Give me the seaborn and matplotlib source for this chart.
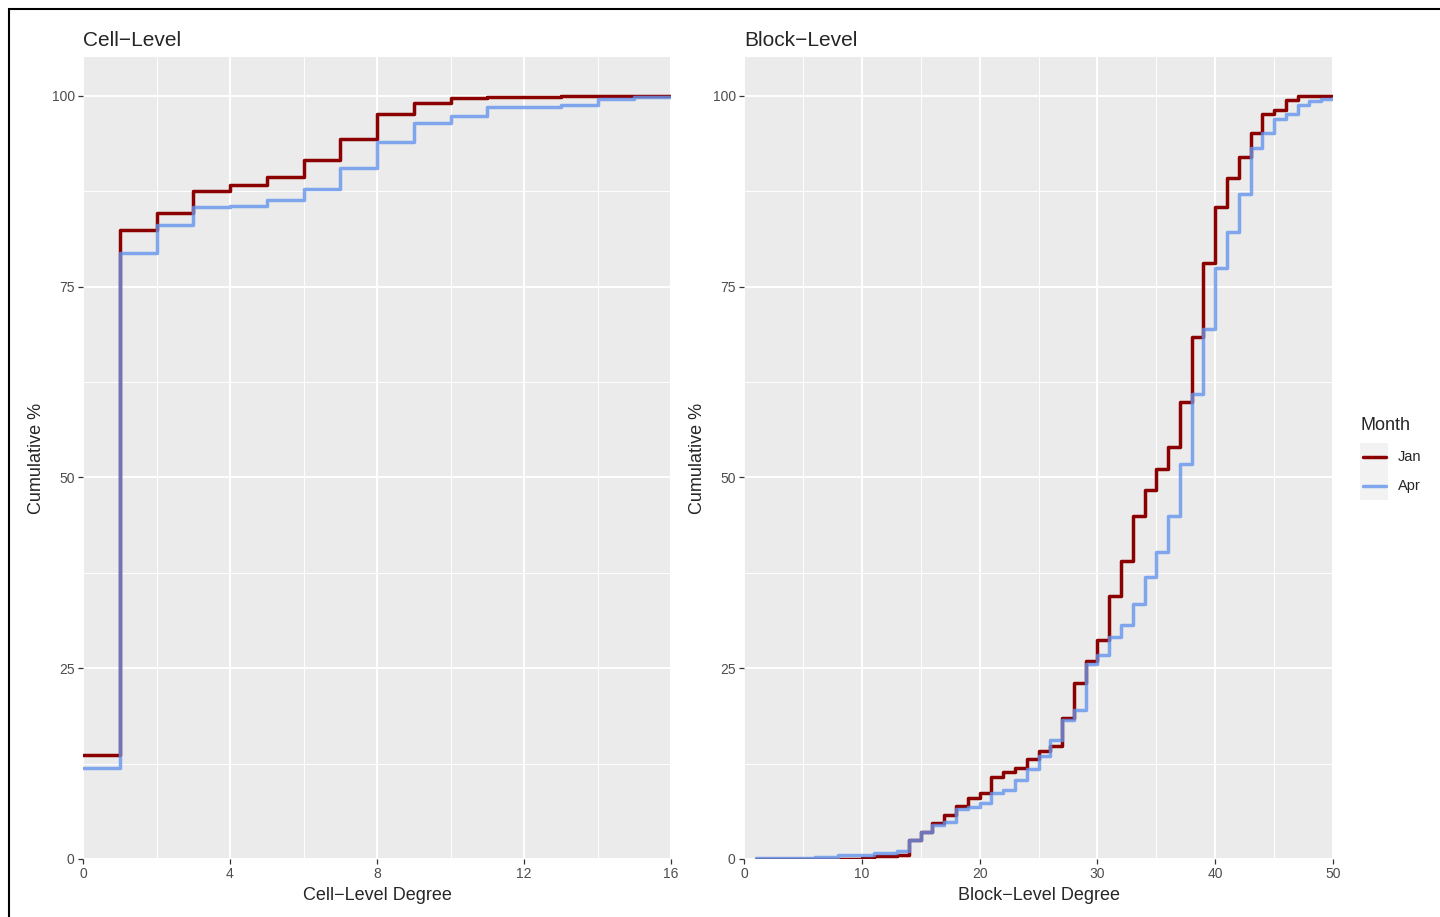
import matplotlib
matplotlib.use("Agg")
import matplotlib.pyplot as plt
import seaborn as sns
import pandas as pd
from matplotlib.patches import Rectangle
from matplotlib.lines import Line2D

# ---------------- data ----------------
MONTHS = ["Jan", "Apr"]
MONTH_COLORS = {"Jan": "#8B0000", "Apr": "#6495ED"}

cell_degree = list(range(0, 17))
cell_jan = [13.6, 82.4, 84.7, 87.5, 88.3, 89.4, 91.6, 94.4, 97.6, 99.1,
            99.7, 99.8, 99.9, 99.95, 100, 100, 100]
cell_apr = [11.9, 79.4, 83.1, 85.4, 85.6, 86.3, 87.8, 90.5, 93.9, 96.4,
            97.4, 98.5, 98.6, 98.8, 99.6, 99.8, 99.8]

block_degree = list(range(1, 51))
block_jan = [0.05, 0.05, 0.05, 0.05, 0.05, 0.05, 0.05, 0.05, 0.05,
             0.13, 0.35, 0.35, 0.57, 2.5, 3.6, 4.7, 5.8, 7.0, 8.0, 8.7,
             10.7, 11.4, 11.9, 13.1, 14.1, 14.8, 18.5, 23.1, 25.9, 28.7,
             34.5, 39.0, 45.0, 48.4, 51.1, 54.0, 59.9, 68.4, 78.1, 85.5,
             89.2, 92.0, 95.2, 97.6, 98.1, 99.4, 100, 100, 100, 100]
block_apr = [0.09, 0.09, 0.09, 0.09, 0.09, 0.26, 0.26, 0.57, 0.57,
             0.57, 0.8, 0.8, 1.0, 2.5, 3.6, 4.4, 4.9, 6.5, 6.8, 7.3,
             8.6, 9.1, 10.3, 11.8, 13.5, 15.6, 18.2, 19.5, 25.5, 26.7,
             29.1, 30.7, 33.4, 37.0, 40.2, 44.9, 51.7, 60.9, 69.5, 77.4,
             82.2, 87.1, 93.2, 95.1, 97.0, 97.6, 98.8, 99.3, 99.65, 99.7]

y_major = [0, 25, 50, 75, 100]
y_minor = [12.5, 37.5, 62.5, 87.5]

W, H = 1440, 917

sns.set_theme(style="darkgrid", rc={
    "axes.facecolor": "#EBEBEB",
    "grid.color": "white",
})
plt.rcParams["font.family"] = ["Liberation Sans", "DejaVu Sans"]


def draw_panel(ax, x, jan, apr, title, xlabel, xmax, xmajor, xminor):
    df = pd.DataFrame({
        "degree": x + x,
        "pct": jan + apr,
        "Month": ["Jan"] * len(x) + ["Apr"] * len(x),
    })
    sns.lineplot(data=df, x="degree", y="pct", hue="Month", hue_order=MONTHS,
                 palette=MONTH_COLORS, drawstyle="steps-post", estimator=None,
                 linewidth=2.5, legend=False, ax=ax)
    ax.lines[1].set_alpha(0.8)

    ax.set_xlim(0, xmax)
    ax.set_ylim(0, 105.1)
    ax.set_xticks(xmajor)
    ax.set_xticks(xminor, minor=True)
    ax.set_yticks(y_major)
    ax.set_yticks(y_minor, minor=True)
    ax.grid(which="major", color="white", linewidth=1.4)
    ax.grid(which="minor", color="white", linewidth=0.7)
    for s in ax.spines.values():
        s.set_visible(False)
    ax.tick_params(which="major", length=3.5, width=0.9, color="#333333",
                   labelcolor="#4D4D4D", labelsize=10, pad=2.5,
                   bottom=True, left=True)
    ax.tick_params(which="minor", length=0)
    ax.set_title(title, loc="left", fontsize=15, pad=8)
    ax.set_xlabel(xlabel, fontsize=13, labelpad=4)
    ax.set_ylabel("Cumulative %", fontsize=13, labelpad=5)


fig = plt.figure(figsize=(W / 100, H / 100), dpi=100)
bottom = 1 - 859 / H
height = (859 - 57) / H
ax1 = fig.add_axes([83 / W, bottom, (671 - 83) / W, height])
ax2 = fig.add_axes([744 / W, bottom, (1333 - 744) / W, height])

draw_panel(ax1, cell_degree, cell_jan, cell_apr, "Cell\u2212Level",
           "Cell\u2212Level Degree", 16, [0, 4, 8, 12, 16], [2, 6, 10, 14])
draw_panel(ax2, block_degree, block_jan, block_apr, "Block\u2212Level",
           "Block\u2212Level Degree", 50, [0, 10, 20, 30, 40, 50],
           [5, 15, 25, 35, 45])

# legend, drawn in ggplot style (grey key boxes)
fig.text(1360 / W, 1 - 426 / H, "Month", fontsize=13, ha="left", va="center")
for i, m in enumerate(MONTHS):
    yc = 457 + 29 * i
    fig.add_artist(Rectangle((1360 / W, 1 - (yc + 14.5) / H), 28 / W, 29 / H,
                             transform=fig.transFigure, facecolor="#F2F2F2",
                             edgecolor="none"))
    fig.add_artist(Line2D([1363 / W, 1386 / W], [1 - yc / H, 1 - yc / H],
                          transform=fig.transFigure, color=MONTH_COLORS[m],
                          linewidth=2.5, alpha=1.0 if m == "Jan" else 0.8))
    fig.text(1398 / W, 1 - yc / H, m, fontsize=10.5, ha="left", va="center")

# outer frame
fig.add_artist(Rectangle((8.5 / W, -0.05), 1.1, 1.05 - 8.5 / H,
                         transform=fig.transFigure, fill=False,
                         edgecolor="black", linewidth=1.5))

fig.savefig("out.png", dpi=100)
